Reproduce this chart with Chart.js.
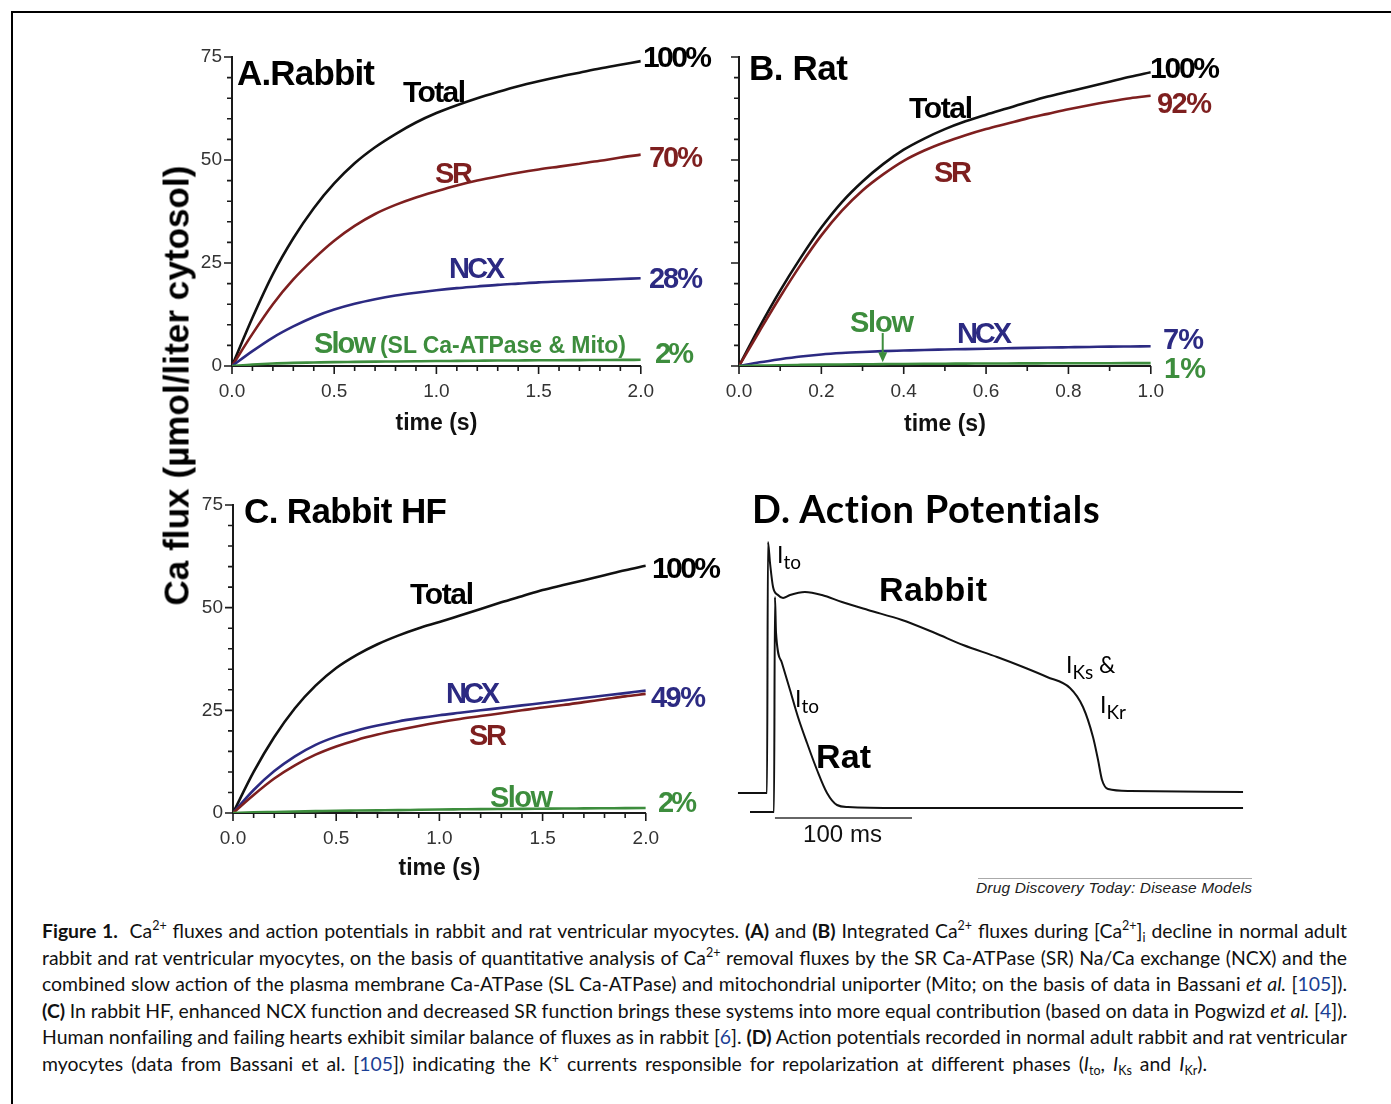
<!DOCTYPE html>
<html>
<head>
<meta charset="utf-8">
<script src="https://cdn.jsdelivr.net/npm/chart.js@4.4.1/dist/chart.umd.min.js"></script>
<style>
  html, body { margin: 0; padding: 0; background: #fff; }
  body { width: 1391px; height: 1104px; overflow: hidden; position: relative; }
  #frame { position: absolute; left: 11px; top: 11px; width: 1420px; height: 1200px;
           border-top: 2px solid #000; border-left: 2px solid #000; }
  canvas { position: absolute; }
  .lbl { position: absolute; white-space: nowrap; line-height: 1; }
  .sb { font-size: 19px; position: relative; top: 6px; }
  .cap { position: absolute; left: 42px; white-space: nowrap; line-height: 1;
         font-family: Lato, "Open Sans", sans-serif; font-size: 19.4px; color: #111; }
  .cap b { font-weight: bold; }
  .cap .sp { font-size: 12.5px; position: relative; top: -8px; }
  .cap .cs { font-size: 12.5px; position: relative; top: 4px; }
  .cap .ref { color: #1b3f95; }
  #ytitle { position: absolute; white-space: nowrap; line-height: 1; font-weight: bold;
            font-family: "Liberation Sans", Arial, sans-serif; font-size: 35px; color: #000; }
  #credit { position: absolute; left: 978px; top: 878px; width: 274px; height: 0; border-top: 1px solid #aaa; }
</style>
</head>
<body>
<div id="frame"></div>
<canvas id="chartA" width="500" height="405" style="left:160px;top:40px"></canvas>
<canvas id="chartB" width="500" height="405" style="left:670px;top:40px"></canvas>
<canvas id="chartC" width="505" height="405" style="left:160px;top:485px"></canvas>
<canvas id="chartD" width="520" height="315" style="left:730px;top:525px"></canvas>
<div id="ytitle">Ca flux (µmol/liter cytosol)</div>
<div id="credit"></div>
<script>
const FONT = "'Liberation Sans', Arial, sans-serif";
const LATO = "Lato, 'Open Sans', sans-serif";

/* -----------------------------
   A. Rabbit  (time s, Ca flux µmol/l cytosol)
------------------------------ */
const timeA = [0, 0.1, 0.2, 0.3, 0.4, 0.5, 0.6, 0.7, 0.8, 0.9, 1.0, 1.1, 1.2, 1.3, 1.4, 1.5, 1.6, 1.7, 1.8, 1.9, 2.0];
const rabbitTotal = [0, 11.7, 22.3, 31, 38.3, 44.3, 49.2, 53.1, 56.3, 59.1, 61.4, 63.3, 65, 66.5, 67.9, 69.1, 70.2, 71.2, 72.2, 73.1, 74];
const rabbitSR    = [0, 7.8, 15, 21, 26, 30.4, 34, 36.9, 39.1, 40.9, 42.4, 43.8, 45, 46, 46.9, 47.7, 48.4, 49.1, 49.8, 50.6, 51.3];
const rabbitNCX   = [0, 3.6, 6.9, 9.6, 11.9, 13.7, 15.1, 16.2, 17.1, 17.8, 18.4, 18.9, 19.3, 19.7, 20, 20.3, 20.5, 20.7, 20.9, 21.1, 21.3];
const rabbitSlow  = [0, 0.35, 0.6, 0.75, 0.85, 0.95, 1.0, 1.05, 1.1, 1.15, 1.2, 1.24, 1.28, 1.32, 1.35, 1.38, 1.4, 1.43, 1.45, 1.48, 1.5];

/* -----------------------------
   B. Rat
------------------------------ */
const timeB = [0, 0.05, 0.1, 0.15, 0.2, 0.25, 0.3, 0.35, 0.4, 0.45, 0.5, 0.55, 0.6, 0.65, 0.7, 0.75, 0.8, 0.85, 0.9, 0.95, 1.0];
const ratTotal = [0, 9.5, 18.3, 26.3, 33.6, 39.8, 44.8, 49, 52.5, 55.2, 57.5, 59.4, 61, 62.5, 64, 65.4, 66.6, 67.8, 69, 70.2, 71.3];
const ratSR    = [0, 8.5, 16.8, 24.6, 31.7, 37.7, 42.6, 46.5, 49.8, 52.3, 54.3, 56, 57.5, 58.8, 60.1, 61.2, 62.3, 63.3, 64.2, 65, 65.6];
const ratNCX   = [0, 0.9, 1.65, 2.3, 2.8, 3.15, 3.4, 3.6, 3.75, 3.9, 4.0, 4.1, 4.2, 4.3, 4.4, 4.48, 4.55, 4.62, 4.7, 4.75, 4.8];
const ratSlow  = [0, 0.1, 0.2, 0.27, 0.33, 0.38, 0.42, 0.46, 0.5, 0.53, 0.55, 0.58, 0.6, 0.62, 0.63, 0.65, 0.66, 0.67, 0.68, 0.69, 0.7];

/* -----------------------------
   C. Rabbit HF
------------------------------ */
const timeC = [0, 0.1, 0.2, 0.3, 0.4, 0.5, 0.6, 0.7, 0.8, 0.9, 1.0, 1.1, 1.2, 1.3, 1.4, 1.5, 1.6, 1.7, 1.8, 1.9, 2.0];
const hfTotal = [0, 10, 18.5, 25.5, 31, 35.3, 38.5, 41.1, 43.2, 45, 46.5, 48.1, 49.7, 51.3, 52.8, 54.3, 55.5, 56.7, 57.9, 59.1, 60.2];
const hfNCX   = [0, 5.6, 10.2, 13.8, 16.6, 18.6, 20.1, 21.3, 22.3, 23.1, 23.8, 24.4, 25, 25.6, 26.2, 26.8, 27.4, 28, 28.6, 29.2, 29.8];
const hfSR    = [0, 4.4, 8.4, 11.6, 14.2, 16.2, 17.8, 19.1, 20.2, 21.2, 22.1, 22.9, 23.6, 24.3, 25, 25.7, 26.3, 27, 27.7, 28.4, 29.0];
const hfSlow  = [0, 0.15, 0.25, 0.35, 0.45, 0.55, 0.6, 0.65, 0.7, 0.78, 0.85, 0.9, 0.95, 0.98, 1.0, 1.05, 1.1, 1.12, 1.15, 1.18, 1.2];

/* -----------------------------
   Tick labels
------------------------------ */
const fluxTickLabels = [0, 25, 50, 75];
const timeTickLabels2s = [0, 0.5, 1.0, 1.5, 2.0];
const timeTickLabels1s = [0, 0.2, 0.4, 0.6, 0.8, 1.0];

/* -----------------------------
   D. Action potentials (ms, mV; rat trace shown offset)
------------------------------ */
const rabbitApT = [-26.3, -5.8, -5.1, -4.4, -2.9, -0.7, 2.9, 6.6, 11.7, 22.6, 35, 49.6, 68.6, 93.4, 117.5, 138, 162.8, 181.8, 199.3, 216, 225.5, 232.8, 236.5, 239.4, 243.8, 259.9, 342.3];
const rabbitApV = [-80, -80, -80, 45.5, 35, 23, 19, 17.5, 19, 20.5, 19, 15.5, 11.5, 6.5, 0, -6, -12, -17, -22, -27.5, -37, -52, -63.5, -73.5, -78, -79, -79.5];
const ratApT = [-17.5, -1.5, 0, 0.7, 1.5, 5.8, 11.7, 17.5, 24.1, 31.4, 38.7, 46, 54, 92, 342.3];
const ratApV = [-89.5, -89.5, -89.5, 18, 0, -15, -28.5, -42, -55, -68.5, -80, -86, -87, -87.5, -87.5];
const scaleBarT = [0.7, 100.7];
const scaleBarV = [-92.5, -92.5];

const COL = { total: '#111111', sr: '#7e1f1f', ncx: '#2c2a82', slow: '#3d8d3d' };

function near(v, list) {
  return list.some(l => Math.abs(v - l) < 1e-6);
}
function isMajor(v, step) {
  const r = v / step;
  return Math.abs(r - Math.round(r)) < 1e-6;
}

/* -----------------------------
   Prism style ticks: long majors, short minors
------------------------------ */
const prismTicks = {
  id: 'prismTicks',
  afterDraw(chart, args, opts) {
    const { ctx } = chart;
    const x = chart.scales.x, y = chart.scales.y;
    ctx.save();
    ctx.strokeStyle = '#1a1a1a';
    ctx.lineWidth = 1.6;
    ctx.beginPath();
    x.ticks.forEach(t => {
      const px = x.getPixelForValue(t.value);
      const len = isMajor(t.value, opts.xMajor) ? 8 : 5;
      ctx.moveTo(px, x.top);
      ctx.lineTo(px, x.top + len);
    });
    y.ticks.forEach(t => {
      const py = y.getPixelForValue(t.value);
      const len = isMajor(t.value, opts.yMajor) ? 8 : 5;
      ctx.moveTo(y.right - len, py);
      ctx.lineTo(y.right, py);
    });
    ctx.stroke();
    ctx.restore();
  }
};

// arrow from the "Slow" label down to the rat slow curve
const slowArrow = { x: 0.349, from: 8, to: 0.9 };
const arrowPlugin = {
  id: 'slowArrow',
  afterDatasetsDraw(chart) {
    const { ctx } = chart;
    const px = chart.scales.x.getPixelForValue(slowArrow.x);
    const y1 = chart.scales.y.getPixelForValue(slowArrow.from);
    const y2 = chart.scales.y.getPixelForValue(slowArrow.to);
    ctx.save();
    ctx.strokeStyle = COL.slow;
    ctx.fillStyle = COL.slow;
    ctx.lineWidth = 2;
    ctx.beginPath();
    ctx.moveTo(px, y1);
    ctx.lineTo(px, y2 - 8);
    ctx.stroke();
    ctx.beginPath();
    ctx.moveTo(px - 4.5, y2 - 10);
    ctx.lineTo(px + 4.5, y2 - 10);
    ctx.lineTo(px, y2);
    ctx.closePath();
    ctx.fill();
    ctx.restore();
  }
};

function fluxChart(id, cfg) {
  const datasets = cfg.sets.map(s => ({
    data: cfg.time.map((t, i) => ({ x: t, y: s.values[i] })),
    borderColor: s.color,
    borderWidth: 2.6,
    pointRadius: 0,
    fill: false,
    cubicInterpolationMode: 'monotone'
  }));

  return new Chart(document.getElementById(id), {
    type: 'line',
    data: { datasets },
    options: {
      responsive: false,
      animation: false,
      layout: { padding: { top: cfg.padTop, right: cfg.padRight, left: 0, bottom: 0 } },
      plugins: {
        legend: { display: false },
        tooltip: { enabled: false },
        prismTicks: { xMajor: cfg.xMajor, yMajor: 25 }
      },
      scales: {
        x: {
          type: 'linear',
          min: 0,
          max: cfg.xMax,
          afterFit: s => { s.height = cfg.xAxisH; },
          ticks: {
            stepSize: cfg.xStep,
            autoSkip: false,
            maxRotation: 0,
            padding: 6,
            color: '#333',
            font: { family: FONT, size: 19 },
            callback: v => near(v, cfg.xLabels) ? v.toFixed(1) : ''
          },
          grid: { display: true, drawOnChartArea: false, drawTicks: true, tickLength: 8, tickColor: 'rgba(0,0,0,0)' },
          border: { display: true, color: '#1a1a1a', width: 2 },
          title: {
            display: true,
            text: 'time (s)',
            color: '#111',
            font: { family: FONT, size: 23, weight: 'bold' },
            padding: { top: 0, bottom: cfg.titlePad }
          }
        },
        y: {
          type: 'linear',
          min: 0,
          max: 75,
          afterFit: s => { s.width = cfg.yAxisW; },
          ticks: {
            stepSize: 5,
            autoSkip: false,
            padding: 2,
            color: '#333',
            font: { family: FONT, size: 19 },
            callback: v => (cfg.yLabels && near(v, cfg.yLabels)) ? String(v) : ''
          },
          grid: { display: true, drawOnChartArea: false, drawTicks: true, tickLength: 8, tickColor: 'rgba(0,0,0,0)' },
          border: { display: true, color: '#1a1a1a', width: 2 }
        }
      }
    },
    plugins: [prismTicks].concat(cfg.extra || [])
  });
}

fluxChart('chartA', {
  time: timeA, xMax: 2, xStep: 0.1, xMajor: 0.5, xLabels: timeTickLabels2s, yLabels: fluxTickLabels,
  padTop: 17, padRight: 19, yAxisW: 72, xAxisH: 79, titlePad: 8,
  sets: [
    { values: rabbitSlow, color: COL.slow },
    { values: rabbitNCX, color: COL.ncx },
    { values: rabbitSR, color: COL.sr },
    { values: rabbitTotal, color: COL.total }
  ]
});

fluxChart('chartB', {
  time: timeB, xMax: 1, xStep: 0.1, xMajor: 0.2, xLabels: timeTickLabels1s, yLabels: null,
  padTop: 17, padRight: 18, yAxisW: 69, xAxisH: 79, titlePad: 7,
  extra: [arrowPlugin],
  sets: [
    { values: ratSlow, color: COL.slow },
    { values: ratNCX, color: COL.ncx },
    { values: ratSR, color: COL.sr },
    { values: ratTotal, color: COL.total }
  ]
});

fluxChart('chartC', {
  time: timeC, xMax: 2, xStep: 0.1, xMajor: 0.5, xLabels: timeTickLabels2s, yLabels: fluxTickLabels,
  padTop: 20, padRight: 19, yAxisW: 73, xAxisH: 77, titlePad: 8,
  sets: [
    { values: hfSlow, color: COL.slow },
    { values: hfSR, color: COL.sr },
    { values: hfNCX, color: COL.ncx },
    { values: hfTotal, color: COL.total }
  ]
});

/* -----------------------------
   D. Action potentials
------------------------------ */
const toPts = (t, v) => t.map((x, i) => ({ x, y: v[i] }));
new Chart(document.getElementById('chartD'), {
  type: 'line',
  data: {
    datasets: [
      { data: toPts(rabbitApT, rabbitApV), borderColor: '#111', borderWidth: 2, pointRadius: 0, cubicInterpolationMode: 'monotone' },
      { data: toPts(ratApT, ratApV), borderColor: '#111', borderWidth: 2, pointRadius: 0, cubicInterpolationMode: 'monotone' },
      { data: toPts(scaleBarT, scaleBarV), borderColor: '#333', borderWidth: 1.6, pointRadius: 0 }
    ]
  },
  options: {
    responsive: false,
    animation: false,
    layout: { padding: { left: 7, right: 6, top: 8, bottom: 7 } },
    plugins: { legend: { display: false }, tooltip: { enabled: false } },
    scales: {
      x: { type: 'linear', min: -27, max: 343, display: false },
      y: { type: 'linear', min: -100, max: 50, display: false }
    }
  }
});

/* -----------------------------
   Text labels (HTML)
------------------------------ */
const labels = [
  { html: 'A.Rabbit', x: 237, base: 85, size: 35, w: 138 },
  { html: 'Total', x: 403, base: 102, size: 30, w: 63 },
  { html: '100%', x: 643, base: 67, size: 30, w: 69 },
  { html: 'SR', x: 435, base: 183, size: 29, w: 38, color: COL.sr },
  { html: '70%', x: 649, base: 167, size: 29, w: 54, color: COL.sr },
  { html: 'NCX', x: 449, base: 278, size: 29, w: 56, color: COL.ncx },
  { html: '28%', x: 649, base: 288, size: 29, w: 54, color: COL.ncx },
  { html: 'Slow', x: 314, base: 353, size: 29, w: 62, color: COL.slow },
  { html: '(SL Ca-ATPase &amp; Mito)', x: 380, base: 353, size: 23, w: 246, color: COL.slow },
  { html: '2%', x: 655, base: 363, size: 29, w: 39, color: COL.slow },

  { html: 'B. Rat', x: 749, base: 80, size: 35, w: 99 },
  { html: 'Total', x: 909, base: 118, size: 30, w: 64 },
  { html: '100%', x: 1150, base: 78, size: 30, w: 70 },
  { html: 'SR', x: 934, base: 182, size: 29, w: 38, color: COL.sr },
  { html: '92%', x: 1157, base: 113, size: 29, w: 55, color: COL.sr },
  { html: 'Slow', x: 850, base: 332, size: 29, w: 64, color: COL.slow },
  { html: 'NCX', x: 957, base: 343, size: 29, w: 55, color: COL.ncx },
  { html: '7%', x: 1163, base: 349, size: 29, w: 41, color: COL.ncx },
  { html: '1%', x: 1164, base: 378, size: 29, w: 42, color: COL.slow },

  { html: 'C. Rabbit HF', x: 244, base: 523, size: 35, w: 203 },
  { html: 'Total', x: 410, base: 604, size: 30, w: 64 },
  { html: '100%', x: 652, base: 578, size: 30, w: 69 },
  { html: 'NCX', x: 446, base: 703, size: 29, w: 54, color: COL.ncx },
  { html: '49%', x: 651, base: 707, size: 29, w: 55, color: COL.ncx },
  { html: 'SR', x: 469, base: 745, size: 29, w: 38, color: COL.sr },
  { html: 'Slow', x: 490, base: 807, size: 29, w: 63, color: COL.slow },
  { html: '2%', x: 658, base: 812, size: 29, w: 39, color: COL.slow },

  { html: 'D. Action Potentials', x: 752, base: 523, size: 38, w: 349, family: LATO },
  { html: 'Rabbit', x: 879, base: 601, size: 34, w: 108 },
  { html: 'Rat', x: 816, base: 768, size: 34, w: 55 },
  { html: 'I<span class="sb">to</span>', x: 777, base: 563, size: 23, family: LATO, weight: 'normal' },
  { html: 'I<span class="sb">to</span>', x: 795, base: 707, size: 23, family: LATO, weight: 'normal' },
  { html: 'I<span class="sb">Ks</span> &amp;', x: 1066, base: 673, size: 23, family: LATO, weight: 'normal' },
  { html: 'I<span class="sb">Kr</span>', x: 1100, base: 713, size: 23, family: LATO, weight: 'normal' },
  { html: '100 ms', x: 803, base: 842, size: 24, w: 79, weight: 'normal', color: '#111' },
  { html: 'Drug Discovery Today: Disease Models', x: 976, base: 893, size: 15.5, w: 276, weight: 'normal', style: 'italic', color: '#222' }
];

function baselineOf(el) {
  const m = document.createElement('span');
  m.style.display = 'inline-block';
  m.style.width = '0px';
  m.style.height = '0px';
  el.appendChild(m);
  const off = m.getBoundingClientRect().top - el.getBoundingClientRect().top;
  el.removeChild(m);
  return off;
}

labels.forEach(l => {
  const el = document.createElement('div');
  el.className = 'lbl';
  el.innerHTML = l.html;
  el.style.fontFamily = l.family || FONT;
  el.style.fontSize = l.size + 'px';
  el.style.fontWeight = l.weight || 'bold';
  el.style.fontStyle = l.style || 'normal';
  el.style.color = l.color || '#000';
  el.style.left = l.x + 'px';
  el.style.top = '0px';
  document.body.appendChild(el);
  if (l.w) {
    const n = el.textContent.length;
    const m = el.getBoundingClientRect().width;
    el.style.letterSpacing = ((l.w - m) / (n - 1)) + 'px';
  }
  el.style.top = (l.base - baselineOf(el)) + 'px';
});

/* y axis title, rotated */
(function () {
  const el = document.getElementById('ytitle');
  const n = el.textContent.length;
  let r = el.getBoundingClientRect();
  el.style.letterSpacing = ((440 - r.width) / (n - 1)) + 'px';
  r = el.getBoundingClientRect();
  const cx = 176, cy = 385;
  el.style.left = (cx - r.width / 2) + 'px';
  el.style.top = (cy - r.height / 2) + 'px';
  el.style.transform = 'rotate(-90deg)';
})();

/* -----------------------------
   Caption
------------------------------ */
const captionLines = [
  '<b>Figure 1.</b>&nbsp; Ca<span class="sp">2+</span> fluxes and action potentials in rabbit and rat ventricular myocytes. <b>(A)</b> and <b>(B)</b> Integrated Ca<span class="sp">2+</span> fluxes during [Ca<span class="sp">2+</span>]<span class="cs">i</span> decline in normal adult',
  'rabbit and rat ventricular myocytes, on the basis of quantitative analysis of Ca<span class="sp">2+</span> removal fluxes by the SR Ca-ATPase (SR) Na/Ca exchange (NCX) and the',
  'combined slow action of the plasma membrane Ca-ATPase (SL Ca-ATPase) and mitochondrial uniporter (Mito; on the basis of data in Bassani <i>et al.</i> [<span class="ref">105</span>]).',
  '<b>(C)</b> In rabbit HF, enhanced NCX function and decreased SR function brings these systems into more equal contribution (based on data in Pogwizd <i>et al.</i> [<span class="ref">4</span>]).',
  'Human nonfailing and failing hearts exhibit similar balance of fluxes as in rabbit [<span class="ref">6</span>]. <b>(D)</b> Action potentials recorded in normal adult rabbit and rat ventricular',
  'myocytes (data from Bassani et al. [<span class="ref">105</span>]) indicating the K<span class="sp">+</span> currents responsible for repolarization at different phases (<i>I</i><span class="cs">to</span>, <i>I</i><span class="cs">Ks</span> and <i>I</i><span class="cs">Kr</span>).'
];
const captionWidths = [1305, 1305, 1305, 1305, 1305, 1165];

captionLines.forEach((html, i) => {
  const el = document.createElement('div');
  el.className = 'cap';
  el.innerHTML = html;
  el.style.top = '0px';
  document.body.appendChild(el);
  const spaces = (el.textContent.match(/[ \u00a0]/g) || []).length;
  const w = el.getBoundingClientRect().width;
  el.style.wordSpacing = ((captionWidths[i] - w) / spaces) + 'px';
  el.style.top = (938 + i * 26.6 - baselineOf(el)) + 'px';
});
</script>
</body>
</html>
